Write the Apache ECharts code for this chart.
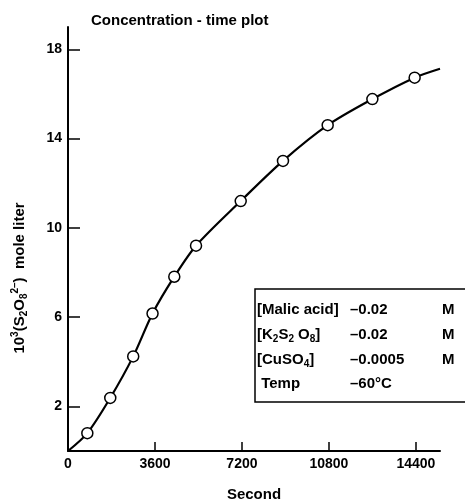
<!DOCTYPE html>
<html><head><meta charset="utf-8">
<script src="https://cdn.jsdelivr.net/npm/echarts@6/dist/echarts.min.js"></script>
<style>html,body{margin:0;padding:0;background:#fff}#c{width:465px;height:502px}</style>
</head><body><div id="c"></div>
<script>
// Data
const timeSec = [800, 1750, 2700, 3500, 4400, 5300, 7150, 8900, 10750, 12600, 14350];
const conc    = [0.8, 2.38, 4.24, 6.16, 7.81, 9.2, 11.2, 13.0, 14.6, 15.77, 16.73];
const curveStart = [0, 0];
const curveEnd = [15400, 17.13];
const xTicks = [0, 3600, 7200, 10800, 14400];
const yTicks = [2, 6, 10, 14, 18];
const legendRows = [
  ['[Malic acid]', '–0.02', 'M'],
  ['[K{s|2}S{s|2} O{s|8}]', '–0.02', 'M'],
  ['[CuSO{s|4}]', '–0.0005', 'M'],
  [' Temp', '–60°C', '']
];

const FONT = '"Liberation Sans", Arial, sans-serif';
const pts = timeSec.map((t, i) => [t, conc[i]]);
const curve = [curveStart, ...pts, curveEnd];

const chart = echarts.init(document.getElementById('c'));
const rowY = [310, 335, 360, 384];
const colX = [257, 350, 442];
const graphics = [
  { type: 'rect', shape: { x: 255, y: 289, width: 230, height: 113 },
    style: { fill: '#fff', stroke: '#000', lineWidth: 1.5 }, z: 10 }
];
legendRows.forEach((row, r) => {
  row.forEach((txt, c) => {
    if (!txt) return;
    graphics.push({ type: 'text', z: 11, x: colX[c], y: rowY[r],
      style: { text: txt, fill: '#000', font: 'bold 15px ' + FONT, verticalAlign: 'middle',
        rich: { s: { fontSize: 10, fontWeight: 'bold', fontFamily: FONT, verticalAlign: 'bottom', padding: [8, 0, 0, 0] } } } });
  });
});
graphics.push({ type: 'text', z: 11, x: 20, y: 278, rotation: Math.PI / 2,
  style: { text: '{n|10}{p|3}{n|(S}{b|2}{n|O}{b|8}{p|2–}{n|)  mole liter}', fill: '#000',
    align: 'center', verticalAlign: 'middle',
    rich: {
      n: { fontSize: 15, fontWeight: 'bold', fontFamily: FONT, fill: '#000' },
      p: { fontSize: 10, fontWeight: 'bold', fontFamily: FONT, padding: [0, 0, 10, 0], fill: '#000' },
      b: { fontSize: 10, fontWeight: 'bold', fontFamily: FONT, padding: [8, 0, 0, 0], fill: '#000' }
    } } });

chart.setOption({
  animation: false,
  backgroundColor: '#fff',
  title: { text: 'Concentration - time plot', left: 86, top: 8,
    textStyle: { fontSize: 15, fontWeight: 'bold', fontFamily: FONT, color: '#000' } },
  grid: { left: 68, right: 25, top: 27, bottom: 51, containLabel: false, outerBoundsMode: 'none' },
  xAxis: {
    type: 'value', min: 0, max: 15400,
    name: 'Second', nameLocation: 'middle', nameGap: 36,
    nameTextStyle: { fontSize: 15, fontWeight: 'bold', fontFamily: FONT, color: '#000' },
    axisLine: { lineStyle: { color: '#000', width: 2 } },
    axisTick: { inside: true, length: 9, customValues: xTicks, lineStyle: { color: '#000', width: 1.5 } },
    axisLabel: { customValues: xTicks, formatter: v => String(v), fontSize: 14, fontWeight: 'bold', fontFamily: FONT, color: '#000', margin: 6 },
    splitLine: { show: false }
  },
  yAxis: {
    type: 'value', min: 0, max: 19,
    axisLine: { lineStyle: { color: '#000', width: 2 } },
    axisTick: { inside: true, length: 12, customValues: yTicks, lineStyle: { color: '#000', width: 1.5 } },
    axisLabel: { customValues: yTicks, formatter: v => String(v), fontSize: 14, fontWeight: 'bold', fontFamily: FONT, color: '#000', margin: 6 },
    splitLine: { show: false }
  },
  graphic: graphics,
  series: [
    { type: 'line', data: curve, smooth: 0.3, showSymbol: false,
      lineStyle: { color: '#000', width: 2.2 }, z: 2 },
    { type: 'scatter', data: pts, symbol: 'circle', symbolSize: 11,
      itemStyle: { color: '#fff', opacity: 1, borderColor: '#000', borderWidth: 1.5 }, z: 3 }
  ]
});
</script></body></html>
